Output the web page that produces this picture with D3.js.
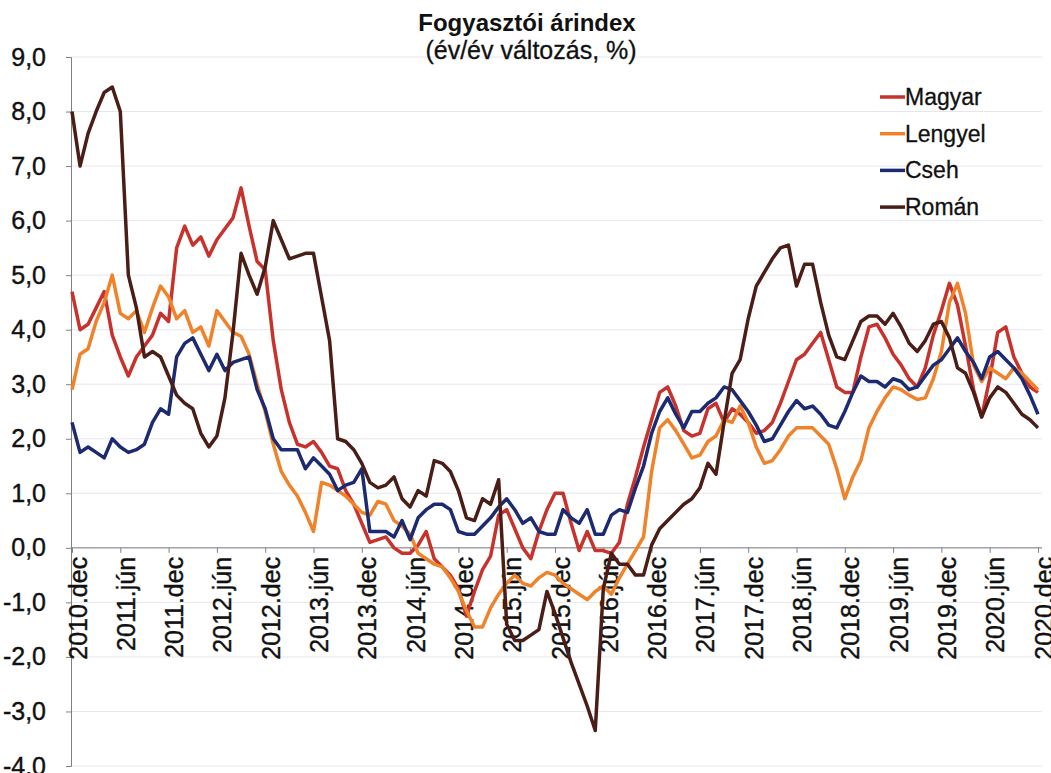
<!DOCTYPE html>
<html>
<head>
<meta charset="utf-8">
<script src="https://cdn.jsdelivr.net/npm/d3@7"></script>
<style>
  body { margin: 0; background: #fff; }
  text { font-family: Arial, "Liberation Sans", sans-serif; fill: #111; }
</style>
</head>
<body>
<svg id="chart" width="1051" height="773"></svg>
<script>
// monthly y/y CPI change, 2010.dec - 2020.dec
var tickLabels = ["2010.dec", "2011.jún", "2011.dec", "2012.jún", "2012.dec", "2013.jún", "2013.dec",
  "2014.jún", "2014.dec", "2015.jún", "2015.dec", "2016.jún", "2016.dec", "2017.jún", "2017.dec",
  "2018.jún", "2018.dec", "2019.jún", "2019.dec", "2020.jún", "2020.dec"];

var magyar = [4.7, 4.0, 4.1, 4.4, 4.7, 3.9, 3.5, 3.15, 3.5, 3.7, 3.9, 4.3, 4.15,
  5.5, 5.9, 5.55, 5.7, 5.35, 5.65, 5.85, 6.05, 6.6, 5.9, 5.25, 5.1,
  3.8, 2.9, 2.3, 1.9, 1.85, 1.95, 1.75, 1.5, 1.45, 1.05, 0.8, 0.45,
  0.1, 0.15, 0.2, 0.0, -0.1, -0.1, 0.05, 0.3, -0.2, -0.35, -0.5, -0.75,
  -1.25, -0.8, -0.4, -0.15, 0.6, 0.7, 0.35, 0.0, -0.2, 0.3, 0.7, 1.0,
  1.0, 0.45, -0.05, 0.3, -0.05, -0.05, -0.1, 0.1, 0.8, 1.3, 1.85, 2.35,
  2.85, 2.95, 2.6, 2.15, 2.05, 2.1, 2.55, 2.65, 2.3, 2.55, 2.45, 2.3,
  2.1, 2.15, 2.3, 2.65, 3.05, 3.45, 3.55, 3.75, 3.95, 3.45, 2.95, 2.85,
  2.85, 3.5, 4.05, 4.1, 3.85, 3.55, 3.35, 3.1, 2.95, 3.3, 3.9, 4.35,
  4.85, 4.45, 3.7, 2.9, 2.4, 3.1, 3.95, 4.05, 3.5, 3.2, 2.95, 2.85];

var lengyel = [2.9, 3.55, 3.65, 4.15, 4.5, 5.0, 4.3, 4.2, 4.35, 3.95, 4.4, 4.8, 4.6,
  4.2, 4.35, 3.95, 4.05, 3.7, 4.35, 4.15, 3.95, 3.88, 3.55, 3.0, 2.5,
  1.9, 1.4, 1.15, 0.95, 0.65, 0.3, 1.2, 1.15, 1.05, 0.95, 0.8, 0.65,
  0.6, 0.85, 0.8, 0.5, 0.4, 0.25, -0.1, -0.2, -0.3, -0.35, -0.55, -0.8,
  -1.15, -1.45, -1.45, -1.1, -0.85, -0.65, -0.5, -0.65, -0.7, -0.55, -0.45, -0.5,
  -0.65, -0.75, -0.85, -0.95, -0.8, -0.7, -0.85, -0.55, -0.3, -0.05, 0.2, 1.4,
  2.2, 2.35, 2.15, 1.9, 1.65, 1.7, 1.95, 2.05, 2.35, 2.3, 2.6, 2.3,
  1.85, 1.55, 1.6, 1.8, 2.05, 2.2, 2.2, 2.2, 2.05, 1.9, 1.45, 0.9,
  1.3, 1.6, 2.2, 2.5, 2.75, 2.95, 2.9, 2.8, 2.72, 2.75, 3.1, 3.6,
  4.5, 4.85, 4.3, 3.35, 3.05, 3.3, 3.2, 3.1, 3.3, 3.2, 3.05, 2.9];

var cseh = [2.3, 1.75, 1.85, 1.75, 1.65, 2.0, 1.85, 1.75, 1.8, 1.9, 2.3, 2.55, 2.45,
  3.5, 3.75, 3.85, 3.55, 3.25, 3.55, 3.25, 3.4, 3.45, 3.5, 2.9, 2.55,
  2.0, 1.8, 1.8, 1.8, 1.45, 1.65, 1.5, 1.35, 1.05, 1.15, 1.2, 1.45,
  0.3, 0.3, 0.3, 0.2, 0.5, 0.15, 0.55, 0.7, 0.8, 0.8, 0.7, 0.3,
  0.25, 0.25, 0.4, 0.55, 0.75, 0.9, 0.7, 0.45, 0.55, 0.3, 0.25, 0.25,
  0.7, 0.55, 0.45, 0.7, 0.25, 0.25, 0.6, 0.7, 0.65, 1.1, 1.5, 2.1,
  2.5, 2.75, 2.45, 2.2, 2.5, 2.5, 2.65, 2.75, 2.95, 2.9, 2.7, 2.5,
  2.25, 1.95, 2.0, 2.25, 2.5, 2.7, 2.55, 2.6, 2.45, 2.25, 2.2, 2.5,
  2.85, 3.15, 3.05, 3.05, 2.95, 3.1, 3.05, 2.9, 2.95, 3.15, 3.35, 3.45,
  3.65, 3.85, 3.6, 3.4, 3.1, 3.5, 3.6, 3.45, 3.3, 3.1, 2.8, 2.45];

var roman = [8.0, 7.0, 7.6, 8.0, 8.35, 8.45, 8.0, 5.0, 4.4, 3.5, 3.6, 3.5, 3.15,
  2.8, 2.65, 2.55, 2.1, 1.85, 2.05, 2.75, 3.95, 5.4, 5.0, 4.65, 5.15,
  6.0, 5.65, 5.3, 5.35, 5.4, 5.4, 4.6, 3.8, 2.0, 1.95, 1.8, 1.55,
  1.2, 1.1, 1.15, 1.3, 0.9, 0.75, 1.05, 0.95, 1.6, 1.55, 1.4, 1.05,
  0.55, 0.5, 0.9, 0.8, 1.25, -1.4, -1.7, -1.7, -1.6, -1.5, -0.8, -1.2,
  -1.65, -2.1, -2.5, -2.9, -3.35, -0.75, -0.1, -0.3, -0.3, -0.5, -0.5, 0.05,
  0.35, 0.5, 0.65, 0.8, 0.9, 1.1, 1.55, 1.35, 2.3, 3.2, 3.45, 4.2,
  4.8, 5.05, 5.3, 5.5, 5.55, 4.8, 5.2, 5.2, 4.5, 3.9, 3.5, 3.45,
  3.8, 4.15, 4.25, 4.25, 4.1, 4.3, 4.05, 3.75, 3.6, 3.8, 4.1, 4.15,
  3.85, 3.3, 3.2, 2.85, 2.4, 2.75, 2.95, 2.85, 2.65, 2.45, 2.35, 2.2];

var names = ["Magyar", "Lengyel", "Cseh", "Román"];
var colors = ["#c8322c", "#f0822a", "#1c2a72", "#4a1d17"];
var series = [magyar, lengyel, cseh, roman];

var svg = d3.select("#chart");

var x = d3.scaleLinear().domain([0, magyar.length - 1]).range([72, 1038]);
var y = d3.scaleLinear().domain([-4, 9]).range([766, 57]);

// faint gridlines
svg.append("g").selectAll("line")
  .data(d3.range(-4, 10))
  .enter().append("line")
  .attr("x1", 71).attr("x2", 1042)
  .attr("y1", function(d) { return y(d); })
  .attr("y2", function(d) { return y(d); })
  .attr("stroke", "#e6e6ef");

var fmt = function(d) { return d3.format(".1f")(d).replace(".", ",").replace("\u2212", "-"); };

// y axis
var gy = svg.append("g")
  .attr("transform", "translate(71,0)")
  .call(d3.axisLeft(y).tickValues(d3.range(-4, 10)).tickSize(5).tickPadding(20).tickFormat(fmt));
gy.select(".domain").attr("stroke", "#808080");
gy.selectAll(".tick line").attr("stroke", "#808080");
gy.selectAll("text")
  .style("font-size", "25px")
  .attr("fill", "#111").attr("stroke", "#111").attr("stroke-width", 0.4);

// x axis on the zero line
var gx = svg.append("g")
  .attr("transform", "translate(0," + y(0) + ")")
  .call(d3.axisBottom(x).tickValues(d3.range(0, 121, 6)).tickSize(5)
    .tickFormat(function(d, i) { return tickLabels[i]; }));
gx.select(".domain").attr("stroke", "#808080").attr("d", "M71,0H1042");
gx.selectAll(".tick line").attr("stroke", "#808080");
gx.selectAll("text")
  .style("font-size", "25px")
  .attr("fill", "#111").attr("stroke", "#111").attr("stroke-width", 0.4)
  .attr("text-anchor", "end")
  .attr("transform", "rotate(-90)")
  .attr("x", -9)
  .attr("y", 14)
  .attr("dy", 0);

// lines
var line = d3.line()
  .x(function(d, i) { return x(i); })
  .y(function(d) { return y(d); });

svg.append("g").selectAll("path")
  .data(series)
  .enter().append("path")
  .attr("d", line)
  .attr("fill", "none")
  .attr("stroke", function(d, i) { return colors[i]; })
  .attr("stroke-width", 3.5)
  .attr("stroke-linejoin", "round");

// title
svg.append("text")
  .attr("x", 527).attr("y", 31)
  .attr("text-anchor", "middle")
  .style("font-size", "24px").style("font-weight", "bold")
  .text("Fogyasztói árindex");
svg.append("text")
  .attr("x", 531).attr("y", 59)
  .attr("text-anchor", "middle")
  .style("font-size", "25px")
  .attr("stroke", "#111").attr("stroke-width", 0.3)
  .text("(év/év változás, %)");

// legend
var legend = svg.append("g").selectAll("g")
  .data(names)
  .enter().append("g")
  .attr("transform", function(d, i) { return "translate(880," + (97 + i * 36.7) + ")"; });
legend.append("line")
  .attr("x1", 0).attr("x2", 25)
  .attr("stroke", function(d, i) { return colors[i]; })
  .attr("stroke-width", 3.5);
legend.append("text")
  .attr("x", 25).attr("dy", "0.35em")
  .style("font-size", "23px")
  .attr("stroke", "#111").attr("stroke-width", 0.3)
  .text(function(d) { return d; });
</script>
</body>
</html>
